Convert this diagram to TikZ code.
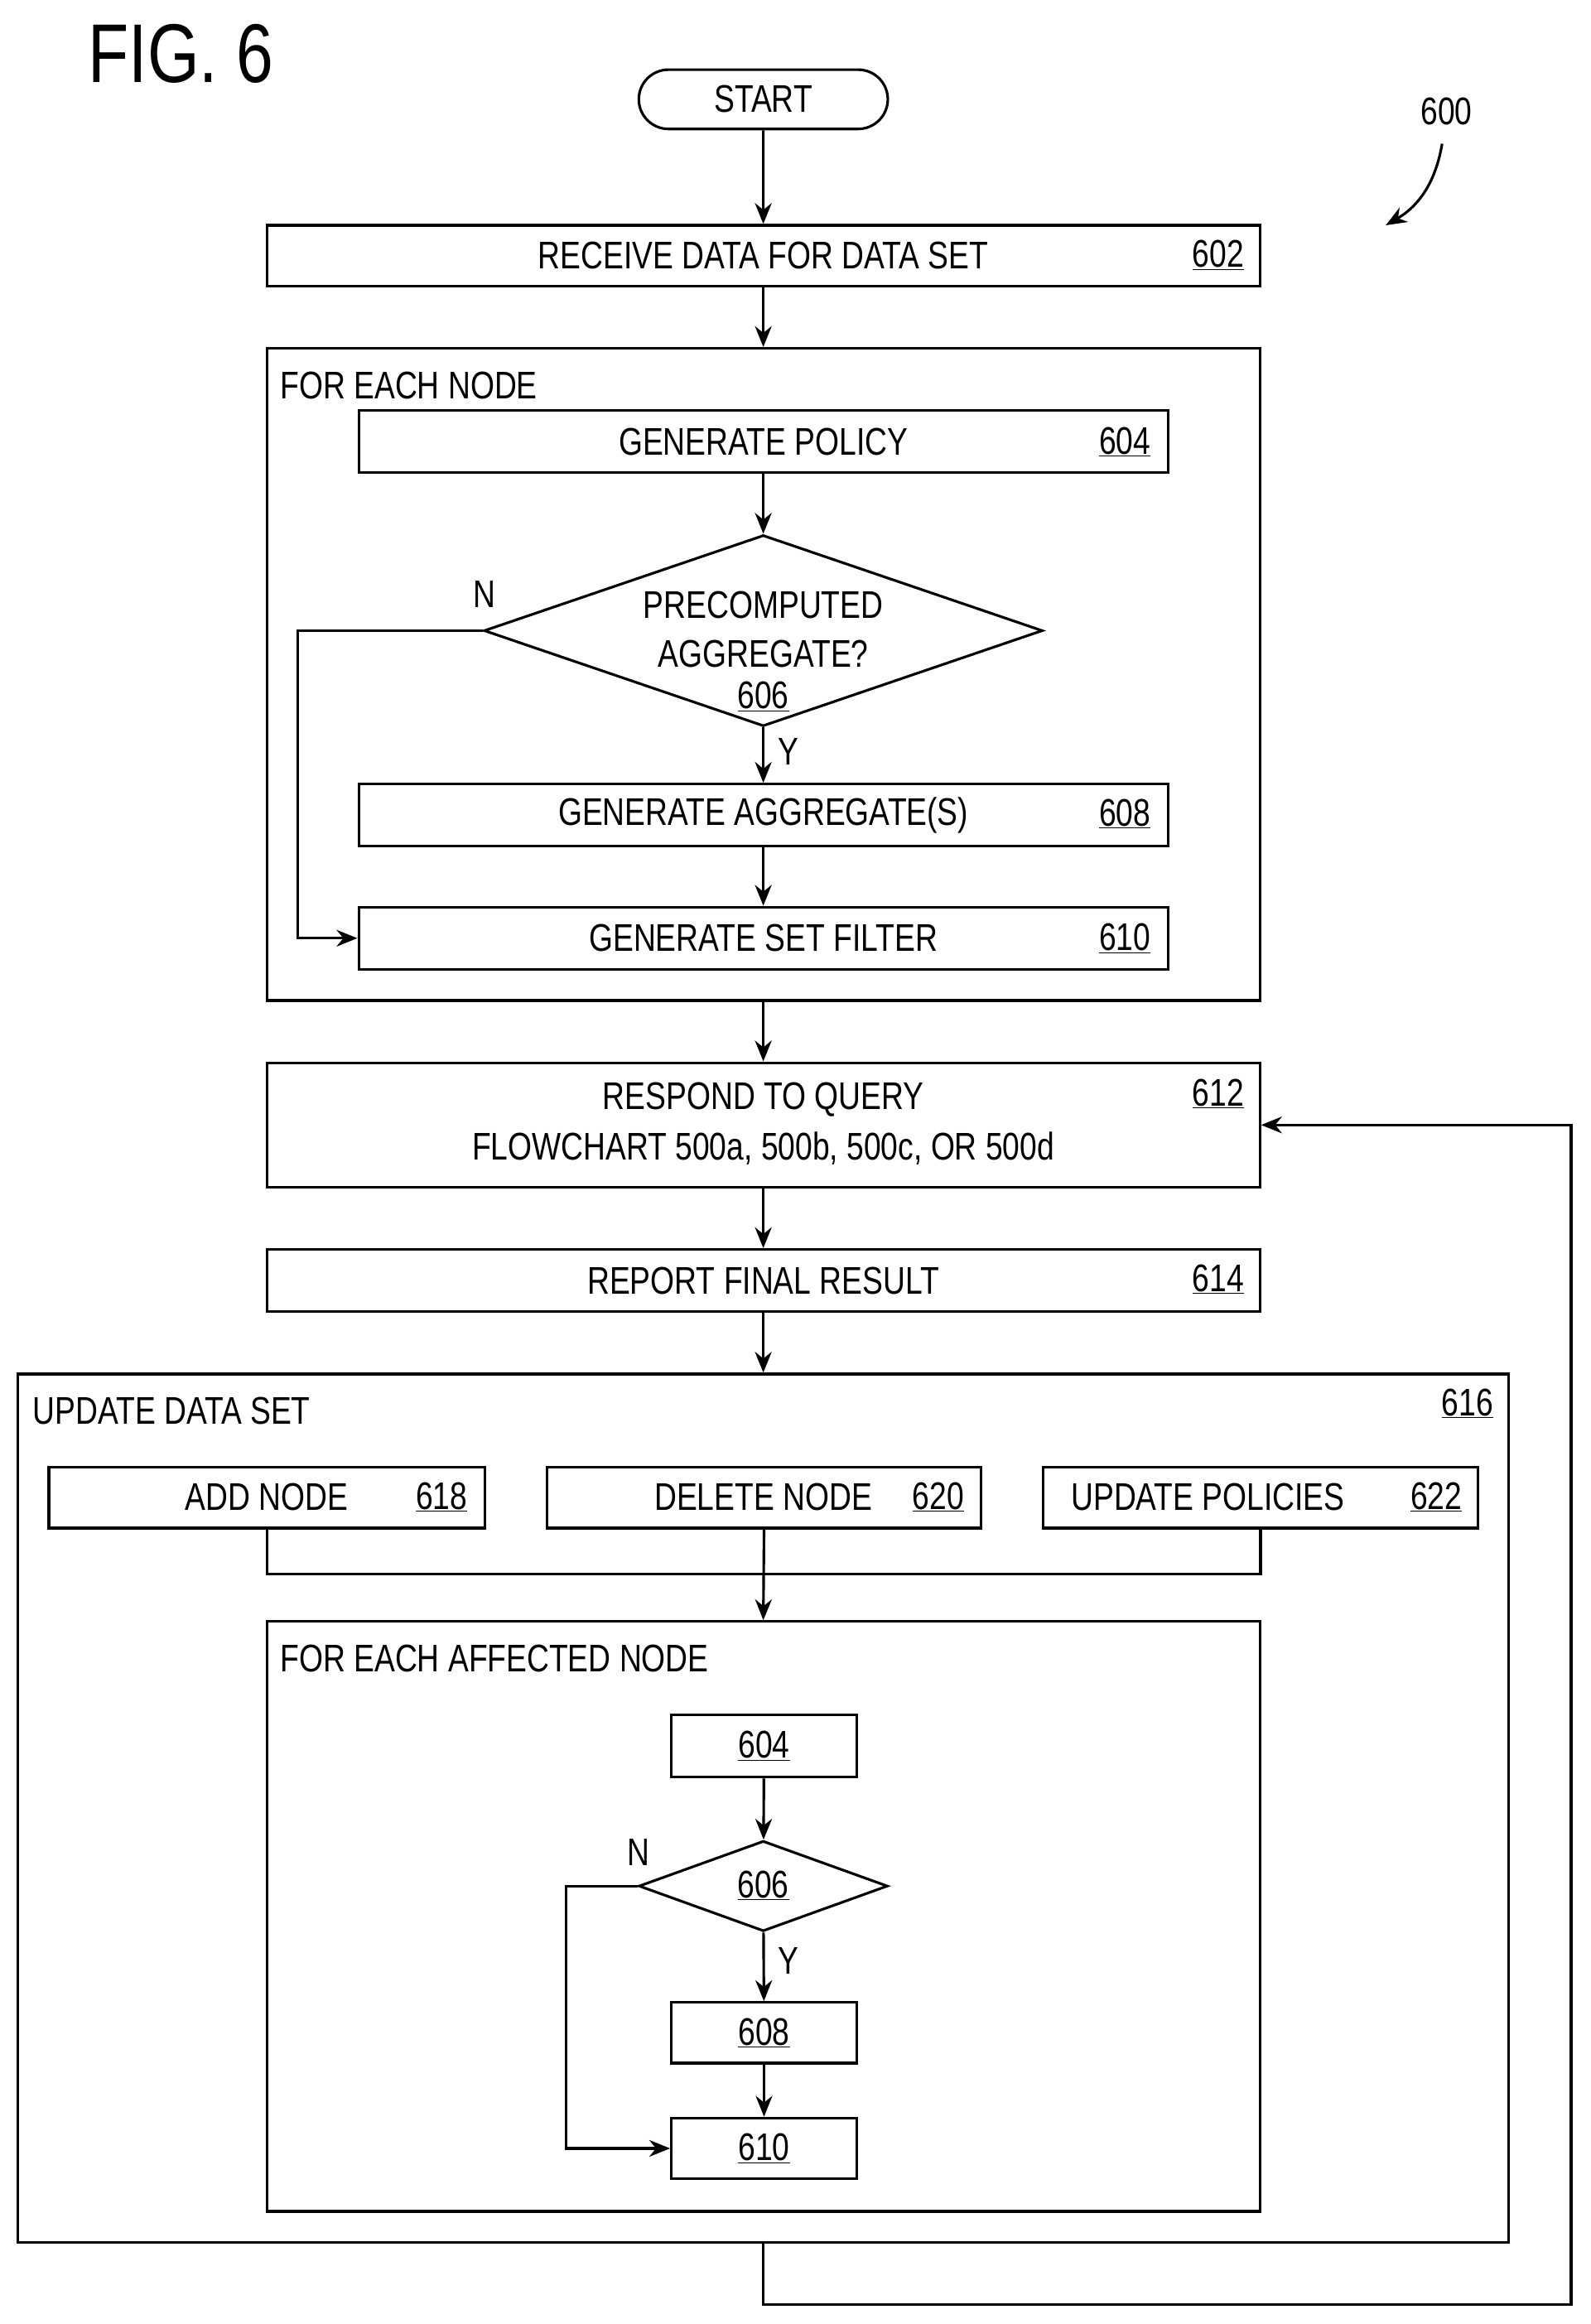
\documentclass[tikz,border=0pt]{standalone}
\usepackage{fontspec}
\setmainfont{Liberation Sans}[FakeStretch=0.8]
\usetikzlibrary{shapes.geometric,shapes.misc,arrows.meta}
\begin{document}
\begin{tikzpicture}[x=0.05cm,y=-0.05cm,
  every node/.style={font=\fontsize{37}{44}\selectfont},
  box/.style={draw,line width=2.5pt,inner sep=0pt,rectangle},
  txt/.style={inner sep=0pt},
  ln/.style={line width=2.5pt},
  arr/.style={line width=2.5pt,-{Stealth[length=20pt,width=16pt]}}]
\useasboundingbox (0,0) rectangle (1073,1568);
\node[txt,font=\fontsize{80}{90}\selectfont] (fig) at (122,36) {FIG. 6};
\node[txt] (l600) at (976,75) {600};
\coordinate (a1) at (973,97); \coordinate (a2) at (935,152);
\draw[arr] (a1) to[bend left=25] (a2);

\node[box,rounded rectangle,minimum width=8.4cm,minimum height=2cm] (start) at (515,67) {START};
\node[box,minimum width=33.5cm,minimum height=2.05cm] (n602) at (515,172.5) {RECEIVE DATA FOR DATA SET};
\node[txt] (t602) at (822,172) {\underline{602}};

\node[box,minimum width=33.5cm,minimum height=22cm] (loop1) at (515,455) {};
\node[txt,anchor=west] (t1) at (189,260) {FOR EACH NODE};
\node[box,minimum width=27.3cm,minimum height=2.1cm] (n604) at (515,298) {GENERATE POLICY};
\node[txt] (t604) at (759,298) {\underline{604}};
\node[box,diamond,minimum width=18.85cm,minimum height=6.45cm] (d606) at (515,425.5) {};
\node[txt] (d1) at (515,408) {PRECOMPUTED};
\node[txt] (d2) at (515,441) {AGGREGATE?};
\node[txt] (d3) at (515,470) {\underline{606}};
\node[box,minimum width=27.3cm,minimum height=2.1cm] (n608) at (515,550) {GENERATE AGGREGATE(S)};
\node[txt] (t608) at (759,549) {\underline{608}};
\node[box,minimum width=27.3cm,minimum height=2.1cm] (n610) at (515,633) {GENERATE SET FILTER};
\node[txt] (t610) at (759,633) {\underline{610}};
\node[txt] (N1) at (327,401) {N};
\node[txt] (Y1) at (532,507) {Y};
\coordinate (c1) at (201,425.5);

\node[box,minimum width=33.5cm,minimum height=4.2cm] (n612) at (515,759) {};
\node[txt] (r1) at (515,742) {RESPOND TO QUERY};
\node[txt] (r2) at (515,775) {FLOWCHART 500a, 500b, 500c, OR 500d};
\node[txt] (t612) at (822,738) {\underline{612}};
\node[box,minimum width=33.5cm,minimum height=2.1cm] (n614) at (515,864) {REPORT FINAL RESULT};
\node[txt] (t614) at (822,863) {\underline{614}};

\node[box,minimum width=50.3cm,minimum height=29.3cm] (upd) at (515,1220) {};
\node[txt,anchor=west] (t2) at (22,952) {UPDATE DATA SET};
\node[txt] (t616) at (990,947) {\underline{616}};
\node[box,minimum width=14.7cm,minimum height=2.05cm] (n618) at (180,1010.5) {};
\node[box,minimum width=14.65cm,minimum height=2.05cm] (n620) at (515.5,1010.5) {};
\node[box,minimum width=14.65cm,minimum height=2.05cm] (n622) at (850.5,1010.5) {};
\node[txt] (x1) at (180,1010) {ADD NODE};
\node[txt] (x1n) at (298,1010) {\underline{618}};
\node[txt] (x2) at (515,1010) {DELETE NODE};
\node[txt] (x2n) at (633,1010) {\underline{620}};
\node[txt] (x3) at (815,1010) {UPDATE POLICIES};
\node[txt] (x3n) at (969,1010) {\underline{622}};
\coordinate (j) at (515,1062);

\node[box,minimum width=33.5cm,minimum height=19.9cm] (inner) at (515,1293) {};
\node[txt,anchor=west] (t3) at (189,1119) {FOR EACH AFFECTED NODE};
\node[box,minimum width=6.25cm,minimum height=2.1cm] (s604) at (515.5,1178) {\underline{604}};
\node[box,diamond,minimum width=8.4cm,minimum height=3.05cm] (sd606) at (515,1272.5) {};
\node[txt] (sd) at (515,1272) {\underline{606}};
\node[box,minimum width=6.25cm,minimum height=2.05cm] (s608) at (515.5,1371.5) {\underline{608}};
\node[box,minimum width=6.25cm,minimum height=2.05cm] (s610) at (515.5,1449.5) {\underline{610}};
\node[txt] (N2) at (431,1250) {N};
\node[txt] (Y2) at (532,1323) {Y};
\coordinate (c2) at (382,1272.5);
\coordinate (f1) at (515,1555);
\coordinate (f2) at (1060,759);

\draw[arr] (start) -- (n602);
\draw[arr] (n602) -- (loop1.north);
\draw[arr] (n604) -- (d606);
\draw[arr] (d606) -- (n608);
\draw[arr] (n608) -- (n610);
\draw[arr] (d606.west) -- (c1) |- (n610.west);
\draw[arr] (loop1.south) -- (n612);
\draw[arr] (n612) -- (n614);
\draw[arr] (n614) -- (upd.north);
\draw[ln] (n618.south) |- (j) -| (n622.south);
\draw[arr] (n620.south) -- (inner.north);
\draw[arr] (s604) -- (sd606);
\draw[arr] (sd606) -- (s608);
\draw[arr] (s608) -- (s610);
\draw[arr] (sd606.west) -- (c2) |- (s610.west);
\draw[arr] (upd.south) -- (f1) -| (f2) -- (n612.east);
\end{tikzpicture}
\end{document}
